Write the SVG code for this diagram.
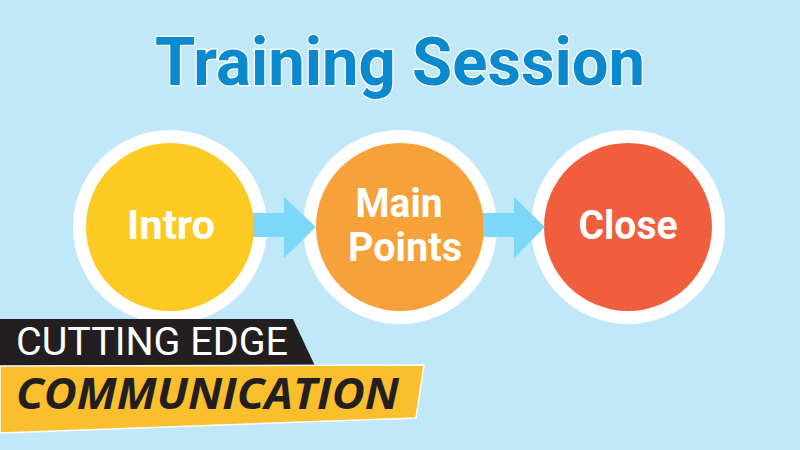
<svg xmlns="http://www.w3.org/2000/svg" width="800" height="450" viewBox="0 0 800 450">
<style>
.ring{fill:#ffffff}
.lbl{font-family:"Roboto","DejaVu Sans",sans-serif;font-weight:bold;font-size:40px;fill:#ffffff;text-anchor:middle}
.title{font-family:"Roboto","DejaVu Sans",sans-serif;font-weight:bold;font-size:66px;fill:#0a89cf;stroke:#ffffff;stroke-width:2.5;paint-order:stroke;text-anchor:middle}
.arrow{fill:#7dd7f6}
</style>
<rect width="800" height="450" fill="#c0e8f9"/>
<text class="title" x="400" y="85" textLength="490" lengthAdjust="spacingAndGlyphs">Training Session</text>
<g id="intro">
<circle class="ring" cx="170" cy="227" r="97"/>
<circle cx="170" cy="227" r="84" fill="#fcca22"/>
<text class="lbl" x="171" y="239" textLength="88" lengthAdjust="spacingAndGlyphs">Intro</text>
</g>
<g id="main-points">
<circle class="ring" cx="400" cy="227" r="97"/>
<circle cx="400" cy="227" r="84" fill="#f7a13a"/>
<text class="lbl" x="399" y="217" textLength="87" lengthAdjust="spacingAndGlyphs">Main</text>
<text class="lbl" x="405" y="261" textLength="114" lengthAdjust="spacingAndGlyphs">Points</text>
</g>
<g id="close">
<circle class="ring" cx="628" cy="227" r="97"/>
<circle cx="628" cy="227" r="84" fill="#f15e3d"/>
<text class="lbl" x="628" y="239" textLength="99" lengthAdjust="spacingAndGlyphs">Close</text>
</g>
<g id="connectors">
<path class="arrow" d="M253,213 H284 V197 L316,227 L284,258 V237 H253 Z"/>
<path class="arrow" d="M483,213 H514 V197 L545,227 L514,258 V237 H483 Z"/>
</g>
<g id="banner">
<polygon points="0,319 293,319 315,366 0,366" fill="#231f20"/>
<text x="16" y="355" font-family="Roboto, 'DejaVu Sans', sans-serif" font-size="38" fill="#ffffff" textLength="272" lengthAdjust="spacingAndGlyphs">CUTTING EDGE</text>
<polygon points="0,366 424,365 416,418 0,433" fill="#fbbe2c" stroke="#ffffff" stroke-width="1.5"/>
<text x="16" y="409" font-family="'Open Sans', 'DejaVu Sans', sans-serif" font-weight="bold" font-style="italic" font-size="43" fill="#231f20" textLength="383" lengthAdjust="spacingAndGlyphs">COMMUNICATION</text>
</g>
</svg>
